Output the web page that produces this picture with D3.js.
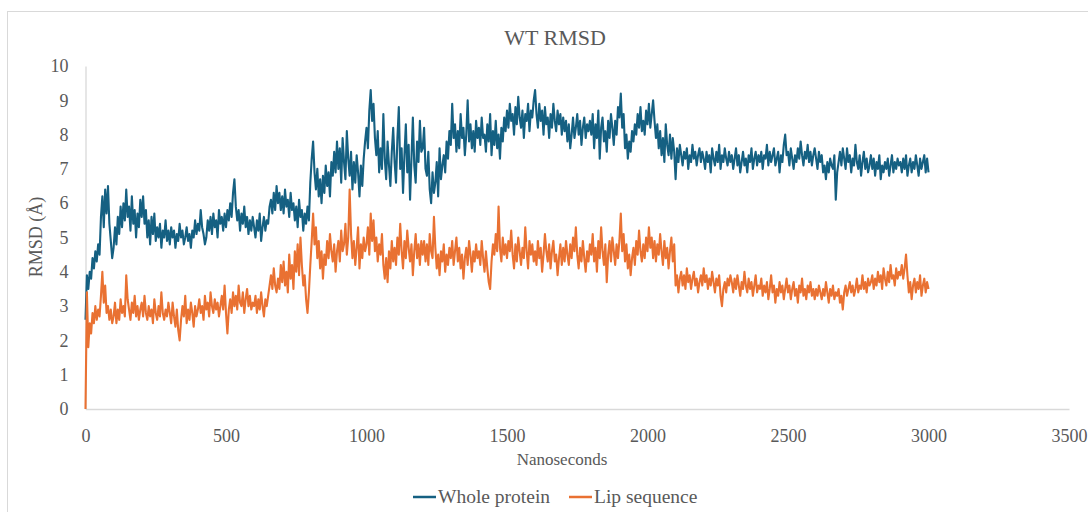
<!DOCTYPE html>
<html>
<head>
<meta charset="utf-8">
<script src="https://cdn.jsdelivr.net/npm/d3@7"></script>
<style>
  html, body { margin: 0; padding: 0; background: #ffffff; }
  svg { display: block; }
  svg text { font-family: "Liberation Serif", "Times New Roman", serif; }
</style>
</head>
<body>
<svg id="chart" width="1088" height="512"></svg>
<script>
// ---- chart text ----
const chartTitle = "WT RMSD";
const xAxisTitle = "Nanoseconds";
const yAxisTitle = "RMSD (Å)";
const seriesNames = ["Whole protein", "Lip sequence"];

// ---- axis ticks ----
const xTicks = [0, 500, 1000, 1500, 2000, 2500, 3000, 3500];
const yTicks = [0, 1, 2, 3, 4, 5, 6, 7, 8, 9, 10];

// ---- trajectory sampling (ns between frames) ----
const stepNs = 5;

// RMSD of the whole protein (Å), one value every 5 ns from 0 to 3000 ns
const wholeProtein = [
  2.6, 3.9, 3.5, 4.0, 3.8, 4.4, 4.1, 4.6, 4.3, 4.8, 4.5, 5.6, 6.2, 5.3, 6.4, 5.7, 6.5, 5.4, 4.9, 4.4,
  4.7, 5.3, 4.8, 5.6, 5.1, 5.9, 5.3, 6.0, 5.5, 6.4, 5.6, 5.9, 5.2, 6.2, 5.4, 5.8, 5.0, 5.7, 5.3, 6.1,
  5.6, 6.2, 5.4, 5.8, 5.0, 5.5, 4.8, 5.6, 5.1, 5.7, 4.9, 5.3, 5.0, 5.4, 4.7, 5.2, 5.0, 5.5, 4.9, 5.2,
  4.8, 5.3, 5.0, 5.2, 4.7, 5.1, 4.9, 5.4, 5.0, 5.2, 4.8, 5.0, 5.3, 4.9, 5.1, 4.7, 5.2, 5.0, 5.5, 5.1,
  5.4, 5.2, 5.8, 5.3, 5.1, 4.8, 5.0, 5.5, 5.2, 5.6, 5.1, 5.7, 5.3, 5.5, 5.0, 5.8, 5.4, 5.6, 5.2, 5.7,
  5.3, 5.8, 5.5, 6.0, 5.6, 6.3, 6.7, 5.9, 5.5, 5.8, 5.2, 5.7, 5.4, 5.9, 5.3, 5.6, 5.1, 5.5, 5.2, 5.6,
  5.3, 5.0, 5.5, 5.2, 5.7, 4.9, 5.3, 5.6, 5.2, 5.5, 5.4, 5.9, 6.1, 5.7, 6.3, 5.8, 6.5, 6.0, 6.3, 5.8,
  6.2, 5.7, 6.4, 5.9, 6.1, 5.6, 6.3, 5.8, 6.0, 5.5, 5.9, 5.3, 6.1, 5.6, 5.8, 5.2, 5.7, 5.4, 5.9, 5.5,
  6.6, 7.3, 7.8, 6.9, 6.4, 7.0, 6.2, 6.7, 6.0, 6.8, 6.3, 7.1, 6.5, 6.9, 6.2, 7.2, 6.8, 7.5, 6.9, 7.8,
  7.0, 7.6, 6.6, 7.9, 7.2, 6.7, 8.1, 7.3, 6.8, 7.5, 6.4, 7.2, 6.6, 7.4, 6.9, 6.2, 7.1, 6.5, 7.3, 7.8,
  8.2, 7.6, 8.7, 9.3, 8.4, 8.9, 7.9, 7.4, 8.1, 6.9, 7.6, 7.0, 8.6, 7.3, 6.7, 7.8, 7.1, 6.5, 7.5, 8.2,
  7.2, 6.6, 7.9, 8.8, 7.0, 7.6, 6.3, 7.4, 8.3, 6.9, 7.7, 6.1, 7.3, 8.5, 7.1, 6.6, 7.8, 7.2, 8.4, 7.5,
  7.6, 8.2, 7.0, 6.8, 7.5, 6.4, 6.0, 6.9, 6.3, 6.6, 7.2, 6.2, 7.6, 6.7, 7.1, 7.4, 6.9, 7.8, 7.3, 8.1,
  7.7, 8.9, 7.9, 8.3, 7.5, 8.1, 7.6, 8.6, 7.9, 8.2, 7.4, 8.0, 9.0, 7.8, 8.3, 7.6, 8.1, 7.5, 8.4, 7.9,
  8.2, 7.7, 8.5, 7.9, 8.0, 7.5, 8.3, 7.8, 8.6, 7.4, 8.1, 7.7, 8.4, 7.6, 8.0, 7.3, 8.2, 7.8, 8.5, 8.1,
  8.7, 8.2, 8.9, 8.4, 8.6, 8.0, 8.8, 8.3, 9.1, 8.5, 8.2, 8.7, 7.9, 8.6, 8.4, 8.9, 8.1, 8.7, 8.5, 9.0,
  9.3, 8.6, 8.2, 8.9, 8.4, 8.7, 8.0, 8.8, 8.3, 8.5, 7.9, 8.6, 8.2, 8.9, 8.4, 8.1, 8.7, 8.3, 8.6, 8.0,
  8.5, 8.1, 8.4, 7.8, 8.3, 7.6, 8.0, 8.5, 7.9, 8.2, 8.6, 8.0, 8.4, 7.7, 8.2, 8.5, 7.9, 8.3, 8.1, 8.4,
  8.0, 8.6, 7.6, 8.3, 7.9, 8.7, 7.3, 8.2, 8.5, 7.8, 8.1, 7.5, 8.4, 7.9, 8.6, 8.2, 7.7, 8.4, 8.0, 8.8,
  8.5, 9.2, 8.2, 8.6, 7.6, 8.0, 7.3, 7.8, 7.5, 8.1, 7.8, 8.3, 8.0, 8.6, 8.2, 8.8, 8.1, 8.4, 8.0, 8.7,
  8.3, 8.9, 8.2, 8.6, 9.0, 8.4, 7.9, 8.3, 7.6, 8.1, 7.4, 7.9, 7.2, 8.3, 7.7, 7.4, 8.0, 7.3, 7.9, 7.5,
  6.7, 7.6, 7.2, 7.7, 7.4, 7.1, 7.5, 7.3, 7.6, 7.0, 7.4, 7.2, 7.7, 7.3, 7.5, 7.1, 7.4, 7.6, 7.2, 7.5,
  7.3, 7.0, 7.5, 7.2, 7.4, 6.9, 7.6, 7.3, 7.1, 7.5, 7.2, 7.7, 7.0, 7.4, 7.2, 7.6, 7.3, 7.1, 7.5, 7.2,
  7.4, 7.0, 7.3, 7.6, 7.1, 7.4, 6.9, 7.2, 7.5, 7.1, 7.3, 6.9, 7.4, 7.2, 7.6, 7.0, 7.3, 7.5, 7.1, 7.4,
  7.2, 7.5, 7.0, 7.4, 7.3, 7.7, 7.1, 7.5, 7.2, 7.4, 7.6, 7.1, 7.3, 7.5, 6.9, 7.4, 7.2, 7.7, 8.0, 7.4,
  7.5, 7.1, 7.6, 7.3, 7.0, 7.4, 7.2, 7.6, 7.3, 7.8, 7.4, 7.1, 7.5, 7.3, 7.7, 7.2, 7.5, 7.1, 7.4, 7.6,
  7.3, 7.0, 7.5, 7.2, 7.4, 6.9, 7.1, 6.7, 7.2, 6.9, 7.3, 7.1, 7.0, 7.4, 6.1, 6.9, 7.2, 7.5, 7.1, 7.6,
  7.3, 7.0, 7.6, 7.2, 7.4, 6.9, 7.3, 7.1, 7.7, 7.2, 7.0, 7.4, 6.8, 7.2, 7.5, 7.0, 7.3, 6.9, 7.1, 7.4,
  7.0, 7.3, 6.8, 7.2, 7.0, 7.4, 6.7, 7.1, 6.9, 7.2, 7.0, 7.3, 6.8, 7.1, 7.4, 6.9, 7.2, 7.0, 7.3, 7.1,
  7.2, 6.9, 7.3, 7.0, 7.4, 6.8, 7.1, 7.3, 6.9, 7.2, 7.0, 7.4, 7.1, 6.8, 7.3, 7.0, 7.2, 7.4, 6.9, 7.3,
  6.9
];

// RMSD of the lip sequence (Å), same frames
const lipSequence = [
  0.0, 3.4, 1.8, 2.5, 2.2, 2.8, 2.5, 3.0, 2.6, 2.9, 2.7, 3.3, 4.0, 3.1, 3.6, 2.8, 3.0, 2.6, 2.9, 2.5,
  2.7, 3.1, 2.5, 2.9, 2.6, 3.2, 2.8, 3.0, 2.7, 3.9, 3.2, 2.9, 2.6, 3.1, 2.8, 3.3, 2.7, 3.0, 2.6, 2.9,
  3.1, 2.7, 3.3, 2.8, 2.6, 3.0, 2.7, 2.9, 2.5, 3.2, 2.8, 2.6, 3.0, 2.7, 3.4, 2.8, 2.6, 2.9, 2.7, 3.1,
  2.8, 2.5, 3.1, 2.7, 2.4, 2.9, 2.3, 2.0, 2.6, 3.0, 2.7, 3.3, 2.5, 2.9, 2.6, 3.1, 2.8, 2.4, 3.0, 2.7,
  2.9, 3.2, 2.8, 3.0, 2.6, 3.3, 2.9, 3.1, 2.7, 3.4, 3.0, 2.8, 3.2, 2.9, 3.1, 2.7, 3.0, 3.3, 2.9, 3.6,
  2.8, 2.2, 2.9, 3.2, 2.8, 3.4, 3.0, 3.3, 2.9, 3.6, 3.1, 3.0, 3.4, 2.8, 3.2, 3.5, 3.0, 3.3, 2.9, 3.1,
  3.0, 3.3, 2.8, 3.2, 2.9, 3.4, 3.0, 2.7, 3.2, 3.0, 3.3, 3.6, 3.9, 3.5, 4.1, 3.6, 3.4, 3.8, 3.5, 4.2,
  3.7, 4.3, 3.6, 4.0, 3.4, 4.5, 3.8, 4.2, 3.5, 4.6, 4.0, 4.8, 3.9, 5.0, 4.2, 3.6, 3.9, 3.2, 2.8, 3.4,
  4.2, 4.9, 5.7, 4.8, 5.3, 4.4, 4.9, 4.1, 4.6, 3.8, 4.5, 4.2, 4.9, 4.4, 5.1, 4.6, 4.3, 4.8, 4.0, 4.6,
  4.9, 4.3, 5.2, 4.6, 4.8, 5.4, 4.5, 5.0, 6.4, 5.1, 4.4, 4.9, 4.2, 4.7, 5.3, 4.1, 4.8, 4.4, 5.0, 4.6,
  4.8, 5.3, 4.5, 5.7, 4.9, 5.5, 4.6, 5.0, 4.3, 4.8, 4.5, 5.1, 4.2, 3.8, 4.4, 3.7, 4.6, 4.1, 4.9, 4.3,
  4.7, 4.2, 5.0, 4.5, 5.4, 4.6, 4.1, 4.9, 4.4, 5.2, 4.7, 4.3, 4.8, 3.9, 4.6, 5.1, 4.4, 4.8, 4.2, 4.9,
  4.5, 4.9, 4.3, 4.8, 4.2, 5.1, 4.6, 4.4, 5.6, 4.7, 4.1, 4.5, 3.9, 4.6, 4.3, 4.8, 4.0, 4.5, 4.2, 4.7,
  4.4, 4.9, 4.2, 4.6, 5.0, 4.3, 4.7, 4.1, 4.5, 3.8, 4.4, 4.7, 4.2, 4.9, 4.5, 4.0, 4.6, 4.3, 4.8, 4.4,
  4.6, 4.2, 4.9, 4.4, 4.0, 4.6, 4.1, 3.7, 3.5, 4.3, 4.8, 4.5, 5.1, 4.6, 5.9, 4.7, 4.3, 5.0, 4.5, 4.8,
  4.4, 4.9, 4.6, 5.2, 4.5, 4.1, 4.8, 4.3, 5.0, 4.6, 4.2, 4.7, 4.4, 5.3, 4.6, 4.1, 4.9, 4.5, 4.8, 4.3,
  4.6, 4.2, 4.9, 4.4, 4.7, 4.0, 4.5, 5.1, 4.6, 4.3, 4.8, 4.1, 4.6, 4.9, 4.3, 4.5, 3.9, 4.4, 4.8, 4.2,
  4.7, 4.3, 4.9, 4.5, 4.2, 4.8, 4.4, 5.0, 4.6, 5.3, 4.5, 4.1, 4.7, 4.3, 4.9, 4.4, 4.0, 4.6, 4.3, 4.8,
  4.5, 5.1, 4.3, 4.7, 4.0, 4.9, 4.4, 5.3, 4.6, 4.2, 4.8, 3.7, 4.5, 4.9, 4.3, 5.0, 4.6, 4.2, 4.8, 4.4,
  4.9, 5.7, 4.6, 5.1, 4.3, 4.8, 4.1, 4.5, 3.9, 4.4, 4.7, 4.2, 4.9, 4.5, 5.2, 4.6, 4.3, 4.8, 4.4, 5.0,
  4.6, 5.3, 4.7, 5.0, 4.4, 4.9, 4.3, 4.8, 4.5, 5.1, 4.6, 4.2, 4.9, 4.4, 4.7, 4.1, 4.6, 5.0, 4.3, 4.8,
  3.6, 3.9, 3.4, 3.8, 4.0, 3.6, 3.9, 3.5, 4.1, 3.7, 3.9, 3.5, 3.8, 4.0, 3.6, 3.8, 3.4, 3.7, 3.9, 3.6,
  4.1, 3.7, 3.9, 3.5, 3.8, 3.6, 4.0, 3.7, 3.4, 3.8, 3.6, 3.9, 3.3, 3.0, 3.5, 3.7, 3.4, 3.8, 3.6, 3.9,
  3.7, 3.4, 3.8, 3.5, 3.9, 3.6, 3.3, 3.7, 3.5, 4.0, 3.6, 3.4, 3.8, 3.5, 3.7, 3.3, 3.6, 3.9, 3.4, 3.6,
  3.5, 3.8, 3.3, 3.6, 3.4, 3.7, 3.2, 3.5, 3.9, 3.4, 3.6, 3.1, 3.5, 3.3, 3.7, 3.4, 3.6, 3.2, 3.5, 3.8,
  3.4, 3.6, 3.2, 3.5, 3.7, 3.3, 3.5, 3.1, 3.6, 3.4, 3.8, 3.3, 3.5, 3.2, 3.6, 3.4, 3.7, 3.3, 3.5, 3.2,
  3.5, 3.3, 3.6, 3.4, 3.2, 3.5, 3.3, 3.7, 3.4, 3.1, 3.5, 3.3, 3.6, 3.2, 3.4, 3.3, 3.5, 3.1, 3.3, 2.9,
  3.4, 3.6, 3.3, 3.5, 3.7, 3.4, 3.6, 3.3, 3.5, 3.8, 3.4, 3.6, 3.5, 3.9, 3.5, 3.7, 3.4, 3.8, 3.6, 3.7,
  3.9, 3.5, 3.8, 3.6, 4.0, 3.7, 3.9, 3.5, 4.1, 3.8, 3.6, 4.0, 3.7, 4.2, 3.8, 3.9, 3.6, 4.1, 3.8, 4.0,
  3.9, 4.2, 3.8, 4.1, 4.5, 3.9, 3.4, 3.7, 3.2, 3.6, 3.8, 3.4, 3.7, 3.5, 3.9, 3.3, 3.6, 3.8, 3.4, 3.7,
  3.5
];

const seriesColors = ["#156082", "#E97132"];

// ---- layout ----
const W = 1088, H = 512;
const plot = { left: 85.5, right: 1069, top: 66, bottom: 409 };
const textColor = "#595959";
const axisColor = "#d9d9d9";
const serif = "Liberation Serif, Times New Roman, serif";

const svg = d3.select("#chart");

// chart-area frame
svg.append("rect")
  .attr("x", 7.5).attr("y", 11.5)
  .attr("width", W + 10).attr("height", H + 10)
  .attr("fill", "#ffffff")
  .attr("stroke", axisColor).attr("stroke-width", 1);

const x = d3.scaleLinear().domain([xTicks[0], xTicks[xTicks.length - 1]])
  .range([plot.left, plot.right]);
const y = d3.scaleLinear().domain([yTicks[0], yTicks[yTicks.length - 1]])
  .range([plot.bottom, plot.top]);

// title
svg.append("text")
  .attr("x", 555).attr("y", 45)
  .attr("text-anchor", "middle")
  .attr("font-family", serif)
  .attr("font-size", 22)
  .attr("fill", textColor)
  .text(chartTitle);

// x axis
const xAxis = svg.append("g")
  .attr("transform", `translate(0,${plot.bottom})`)
  .call(d3.axisBottom(x).tickValues(xTicks).tickFormat(d3.format("d"))
    .tickSize(0).tickPadding(20));
// y axis
const yAxis = svg.append("g")
  .attr("transform", `translate(${plot.left},0)`)
  .call(d3.axisLeft(y).tickValues(yTicks).tickFormat(d3.format("d"))
    .tickSize(0).tickPadding(17));

[xAxis, yAxis].forEach(g => {
  g.attr("font-family", serif);
  g.select(".domain").attr("stroke", axisColor).attr("stroke-width", 1.3);
  g.selectAll(".tick text")
    .attr("fill", textColor)
    .attr("font-size", 18)
    .attr("font-family", serif);
});

// axis titles
svg.append("text")
  .attr("x", 562).attr("y", 465)
  .attr("text-anchor", "middle")
  .attr("font-family", serif)
  .attr("font-size", 17)
  .attr("fill", textColor)
  .text(xAxisTitle);

svg.append("text")
  .attr("transform", "translate(42,237) rotate(-90)")
  .attr("text-anchor", "middle")
  .attr("font-family", serif)
  .attr("font-size", 18)
  .attr("fill", textColor)
  .text(yAxisTitle);

// series lines
const series = [wholeProtein, lipSequence];
const line = d3.line()
  .x((d, i) => x(i * stepNs))
  .y(d => y(d));

series.forEach((values, k) => {
  svg.append("path")
    .datum(values)
    .attr("fill", "none")
    .attr("stroke", seriesColors[k])
    .attr("stroke-width", 2.1)
    .attr("stroke-linejoin", "round")
    .attr("d", line);
});

// legend
const legendItems = [
  { name: seriesNames[0], color: seriesColors[0], x: 413 },
  { name: seriesNames[1], color: seriesColors[1], x: 569 }
];
const legend = svg.append("g").attr("transform", "translate(0,497)");
legendItems.forEach(it => {
  legend.append("line")
    .attr("x1", it.x).attr("x2", it.x + 23)
    .attr("y1", 0).attr("y2", 0)
    .attr("stroke", it.color).attr("stroke-width", 2.5);
  legend.append("text")
    .attr("x", it.x + 25).attr("y", 6)
    .attr("font-family", serif)
    .attr("font-size", 19.5)
    .attr("fill", textColor)
    .text(it.name);
});
</script>
</body>
</html>
